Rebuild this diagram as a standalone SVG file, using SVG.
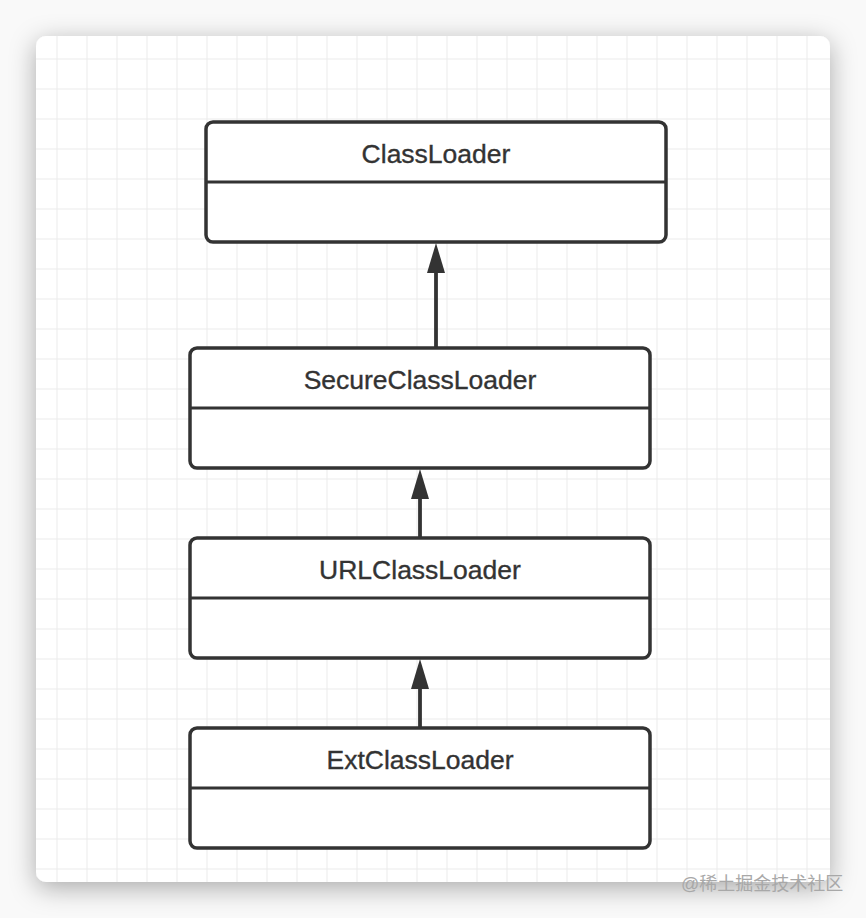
<svg xmlns="http://www.w3.org/2000/svg" width="866" height="918" viewBox="0 0 866 918">
  <defs>
    <filter id="shadow" x="-10%" y="-10%" width="120%" height="120%">
      <feDropShadow dx="0" dy="6" stdDeviation="13" flood-color="#000" flood-opacity="0.32"/>
    </filter>
    <pattern id="grid" x="56.5" y="58.5" width="30" height="30" patternUnits="userSpaceOnUse">
      <path d="M0 0 H30 M0 0 V30" fill="none" stroke="#ebebeb" stroke-width="2"/>
    </pattern>
    <marker id="arrow" viewBox="0 0 30 18" refX="0" refY="9" markerWidth="30" markerHeight="18" markerUnits="userSpaceOnUse" orient="auto">
      <path d="M30 9 L0 0 L0 18 Z" fill="#333"/>
    </marker>
    <clipPath id="cardclip">
      <rect x="36" y="36" width="794" height="846" rx="10"/>
    </clipPath>
  </defs>
  <style>
    .box { fill: #fff; stroke: #333; stroke-width: 3.5; }
    .div { stroke: #333; stroke-width: 3.2; }
    .label { font-family: "Liberation Sans", Arial, sans-serif; font-size: 26.5px; fill: #333; stroke: #333; stroke-width: 0.35; text-anchor: middle; }
    .conn { stroke: #333; stroke-width: 3.8; fill: none; }
    .wm { font-family: "Liberation Sans", "Noto Sans CJK SC", sans-serif; font-size: 18px; fill: #a8a8a8; }
  </style>
  <rect width="866" height="918" fill="#f9f9f9"/>
  <rect x="36" y="36" width="794" height="846" rx="10" fill="#fff" filter="url(#shadow)"/>
  <rect x="36" y="36" width="794" height="846" fill="url(#grid)" clip-path="url(#cardclip)"/>

  <g id="connectors">
    <line class="conn" x1="436" y1="348" x2="436" y2="273" marker-end="url(#arrow)"/>
    <line class="conn" x1="420" y1="538" x2="420" y2="499" marker-end="url(#arrow)"/>
    <line class="conn" x1="420" y1="728" x2="420" y2="689" marker-end="url(#arrow)"/>
  </g>

  <g id="ClassLoader">
    <rect class="box" x="206" y="122" width="460" height="120" rx="7"/>
    <line class="div" x1="206" y1="182" x2="666" y2="182"/>
    <text class="label" x="436" y="162.5">ClassLoader</text>
  </g>
  <g id="SecureClassLoader">
    <rect class="box" x="190" y="348" width="460" height="120" rx="7"/>
    <line class="div" x1="190" y1="408" x2="650" y2="408"/>
    <text class="label" x="420" y="388.5">SecureClassLoader</text>
  </g>
  <g id="URLClassLoader">
    <rect class="box" x="190" y="538" width="460" height="120" rx="7"/>
    <line class="div" x1="190" y1="598" x2="650" y2="598"/>
    <text class="label" x="420" y="578.5">URLClassLoader</text>
  </g>
  <g id="ExtClassLoader">
    <rect class="box" x="190" y="728" width="460" height="120" rx="7"/>
    <line class="div" x1="190" y1="788" x2="650" y2="788"/>
    <text class="label" x="420" y="768.5">ExtClassLoader</text>
  </g>

  <text class="wm" x="681" y="890">@稀土掘金技术社区</text>
</svg>
